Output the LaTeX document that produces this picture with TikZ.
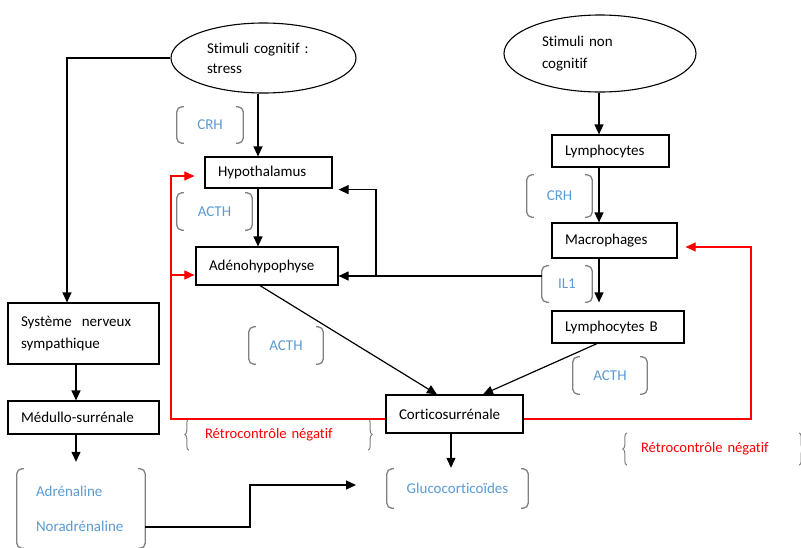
\documentclass[tikz,border=0pt]{standalone}
\usepackage{fontspec}
\setmainfont{Carlito}[Ligatures={NoCommon}]
\usetikzlibrary{arrows.meta,shapes.geometric,decorations.pathreplacing}
\definecolor{lblue}{RGB}{91,155,213}
\definecolor{brkgray}{RGB}{128,128,128}
\newcommand\brkpair[1]{%
 \draw[brkline] ([xshift=7pt]#1.north west) -- (#1.north west) -- (#1.south west) -- ([xshift=7pt]#1.south west);
 \draw[brkline] ([xshift=-7pt]#1.north east) -- (#1.north east) -- (#1.south east) -- ([xshift=-7pt]#1.south east);}
\newcommand\bracepair[1]{%
 \draw[braceline] (#1.south west) -- (#1.north west);
 \draw[braceline] (#1.north east) -- (#1.south east);}
\begin{document}
\begin{tikzpicture}[x=1pt,y=-1pt,
 every node/.style={font=\fontsize{15}{20}\selectfont},
 box/.style={draw, line width=1.2pt, rectangle, inner xsep=13pt, inner ysep=0pt, align=left},
 oval/.style={draw, line width=1.1pt, ellipse, inner sep=0pt, align=left},
 lbl/.style={text=lblue, inner sep=0pt},
 rlbl/.style={text=red, inner ysep=0pt, align=left, font=\fontsize{14.6}{18}\selectfont},
 brkline/.style={draw=brkgray, line width=1.3pt, rounded corners=5pt},
 braceline/.style={draw=brkgray, line width=1pt, decorate, decoration={brace, amplitude=4pt}},
 arr/.style={draw, line width=1.2pt, -{Triangle[length=10pt,width=9pt]}},
 redarr/.style={draw=red, line width=1.1pt, -{Triangle[length=10pt,width=9pt]}},
]
\fill[white] (0,0) rectangle (801,547);
\useasboundingbox (0,0) rectangle (801,547);

% ellipses
\node[oval, minimum width=185pt, minimum height=70pt, text width=113pt] (e1) at (263.5,58) {Stimuli cognitif :\\stress};
\node[oval, minimum width=192pt, minimum height=77pt, text width=116pt, font=\fontsize{15}{22}\selectfont] (e2) at (600,53.5) {Stimuli non\\cognitif};

% boxes
\node[box, text width=101pt, minimum height=31pt] (hyp) at (268.5,172.5) {Hypothalamus};
\node[box, text width=116pt, minimum height=38pt] (adeno) at (267,266) {Adénohypophyse};
\node[box, text width=91pt, minimum height=32pt] (lymph) at (610.5,151) {Lymphocytes};
\node[box, text width=99pt, minimum height=35pt] (macro) at (614.5,240.5) {Macrophages};
\node[box, text width=106pt, minimum height=32pt] (lymphb) at (618,327) {Lymphocytes B};
\node[box, text width=111pt, minimum height=38pt] (cortico) at (454.5,414) {Corticosurrénale};
\node[box, text width=125pt, minimum height=61pt, font=\fontsize{15}{22}\selectfont] (sns) at (83.5,333.5) {Système~ nerveux\\sympathique};
\node[box, text width=125pt, minimum height=33pt] (medullo) at (83.5,417.5) {Médullo-surrénale};

% bracketed labels
\node[lbl, minimum width=66pt, minimum height=36pt] (crh1) at (210,125) {CRH};
\node[lbl, minimum width=75pt, minimum height=37pt] (acth1) at (214.5,211.5) {ACTH};
\node[lbl, minimum width=65pt, minimum height=42pt] (crh2) at (559.5,196) {CRH};
\node[lbl, minimum width=50pt, minimum height=36pt] (il1) at (567,284) {IL1};
\node[lbl, minimum width=74pt, minimum height=37pt] (acth2) at (286,345.5) {ACTH};
\node[lbl, minimum width=74pt, minimum height=37pt] (acth3) at (610,375.5) {ACTH};
\node[lbl, minimum width=141pt, minimum height=39pt] (gluco) at (457.5,488.5) {Glucocorticoïdes};
\node[lbl, text width=90pt, inner xsep=19pt, align=left, minimum height=79pt, font=\fontsize{15}{22}\selectfont] (adr) at (81,508.5) {Adrénaline\\[13pt]Noradrénaline};
\foreach \n in {crh1,acth1,crh2,il1,acth2,acth3,gluco,adr} {\brkpair{\n}}

\node[rlbl, text width=147pt, inner xsep=16pt, minimum height=31pt] (retro1) at (278.5,434.5) {Rétrocontrôle négatif};
\node[rlbl, text width=144pt, inner xsep=14pt, minimum height=32pt] (retro2) at (713,449) {Rétrocontrôle négatif};
\bracepair{retro1}
\bracepair{retro2}

% black connectors
\draw[arr] (e1.west) -| ([xshift=-16.5pt]sns.north);
\draw[arr] ([xshift=-5.5pt]e1.south) -- ([xshift=-10.5pt]hyp.north);
\draw[arr] ([xshift=-10.5pt]hyp.south) -- ([xshift=-9pt]adeno.north);
\draw[arr] ([xshift=-1pt]e2.south) -- ([xshift=-11.5pt]lymph.north);
\draw[arr] ([xshift=-11.5pt]lymph.south) -- ([xshift=-15.5pt]macro.north);
\draw[arr, shorten >=8pt] ([xshift=-15.5pt]macro.south) -- ([xshift=-19pt]lymphb.north);
\coordinate (j1) at (376,276);
\draw[arr] (il1.west |- j1) -- (adeno.east |- j1);
\draw[arr, shorten >=6pt] (j1) |- ([yshift=-1pt]hyp.south east);
\draw[arr] ([xshift=-7pt]adeno.south) -- ([xshift=-17.5pt]cortico.north);
\draw[arr] ([xshift=-21pt]lymphb.south) -- ([xshift=28.5pt]cortico.north);
\draw[arr, shorten >=1pt] ([xshift=-3.5pt]cortico.south) -- ([xshift=-6.5pt]gluco.north);
\draw[arr] ([xshift=-7.5pt]sns.south) -- ([xshift=-7.5pt]medullo.north);
\draw[arr, shorten >=7pt] ([xshift=-7.5pt]medullo.south) -- ([xshift=-5pt]adr.north);
\coordinate (j3) at (250,527);
\coordinate (g1) at (356,485);
\draw[arr] (adr.east |- j3) -- (j3) |- (g1);

% red feedback
\coordinate (r1) at (171,419);
\coordinate (r2) at (751,419);
\coordinate (ad1) at ([yshift=-9pt]adeno.west);
\draw[redarr, shorten >=10pt] (cortico.west |- r1) -- (r1) |- ([yshift=-3.5pt]hyp.west);
\draw[redarr, shorten >=1pt] (ad1 -| r1) -- (ad1);
\draw[redarr, shorten >=8pt] (cortico.east |- r2) -- (r2) |- ([yshift=-6.5pt]macro.east);
\end{tikzpicture}
\end{document}
